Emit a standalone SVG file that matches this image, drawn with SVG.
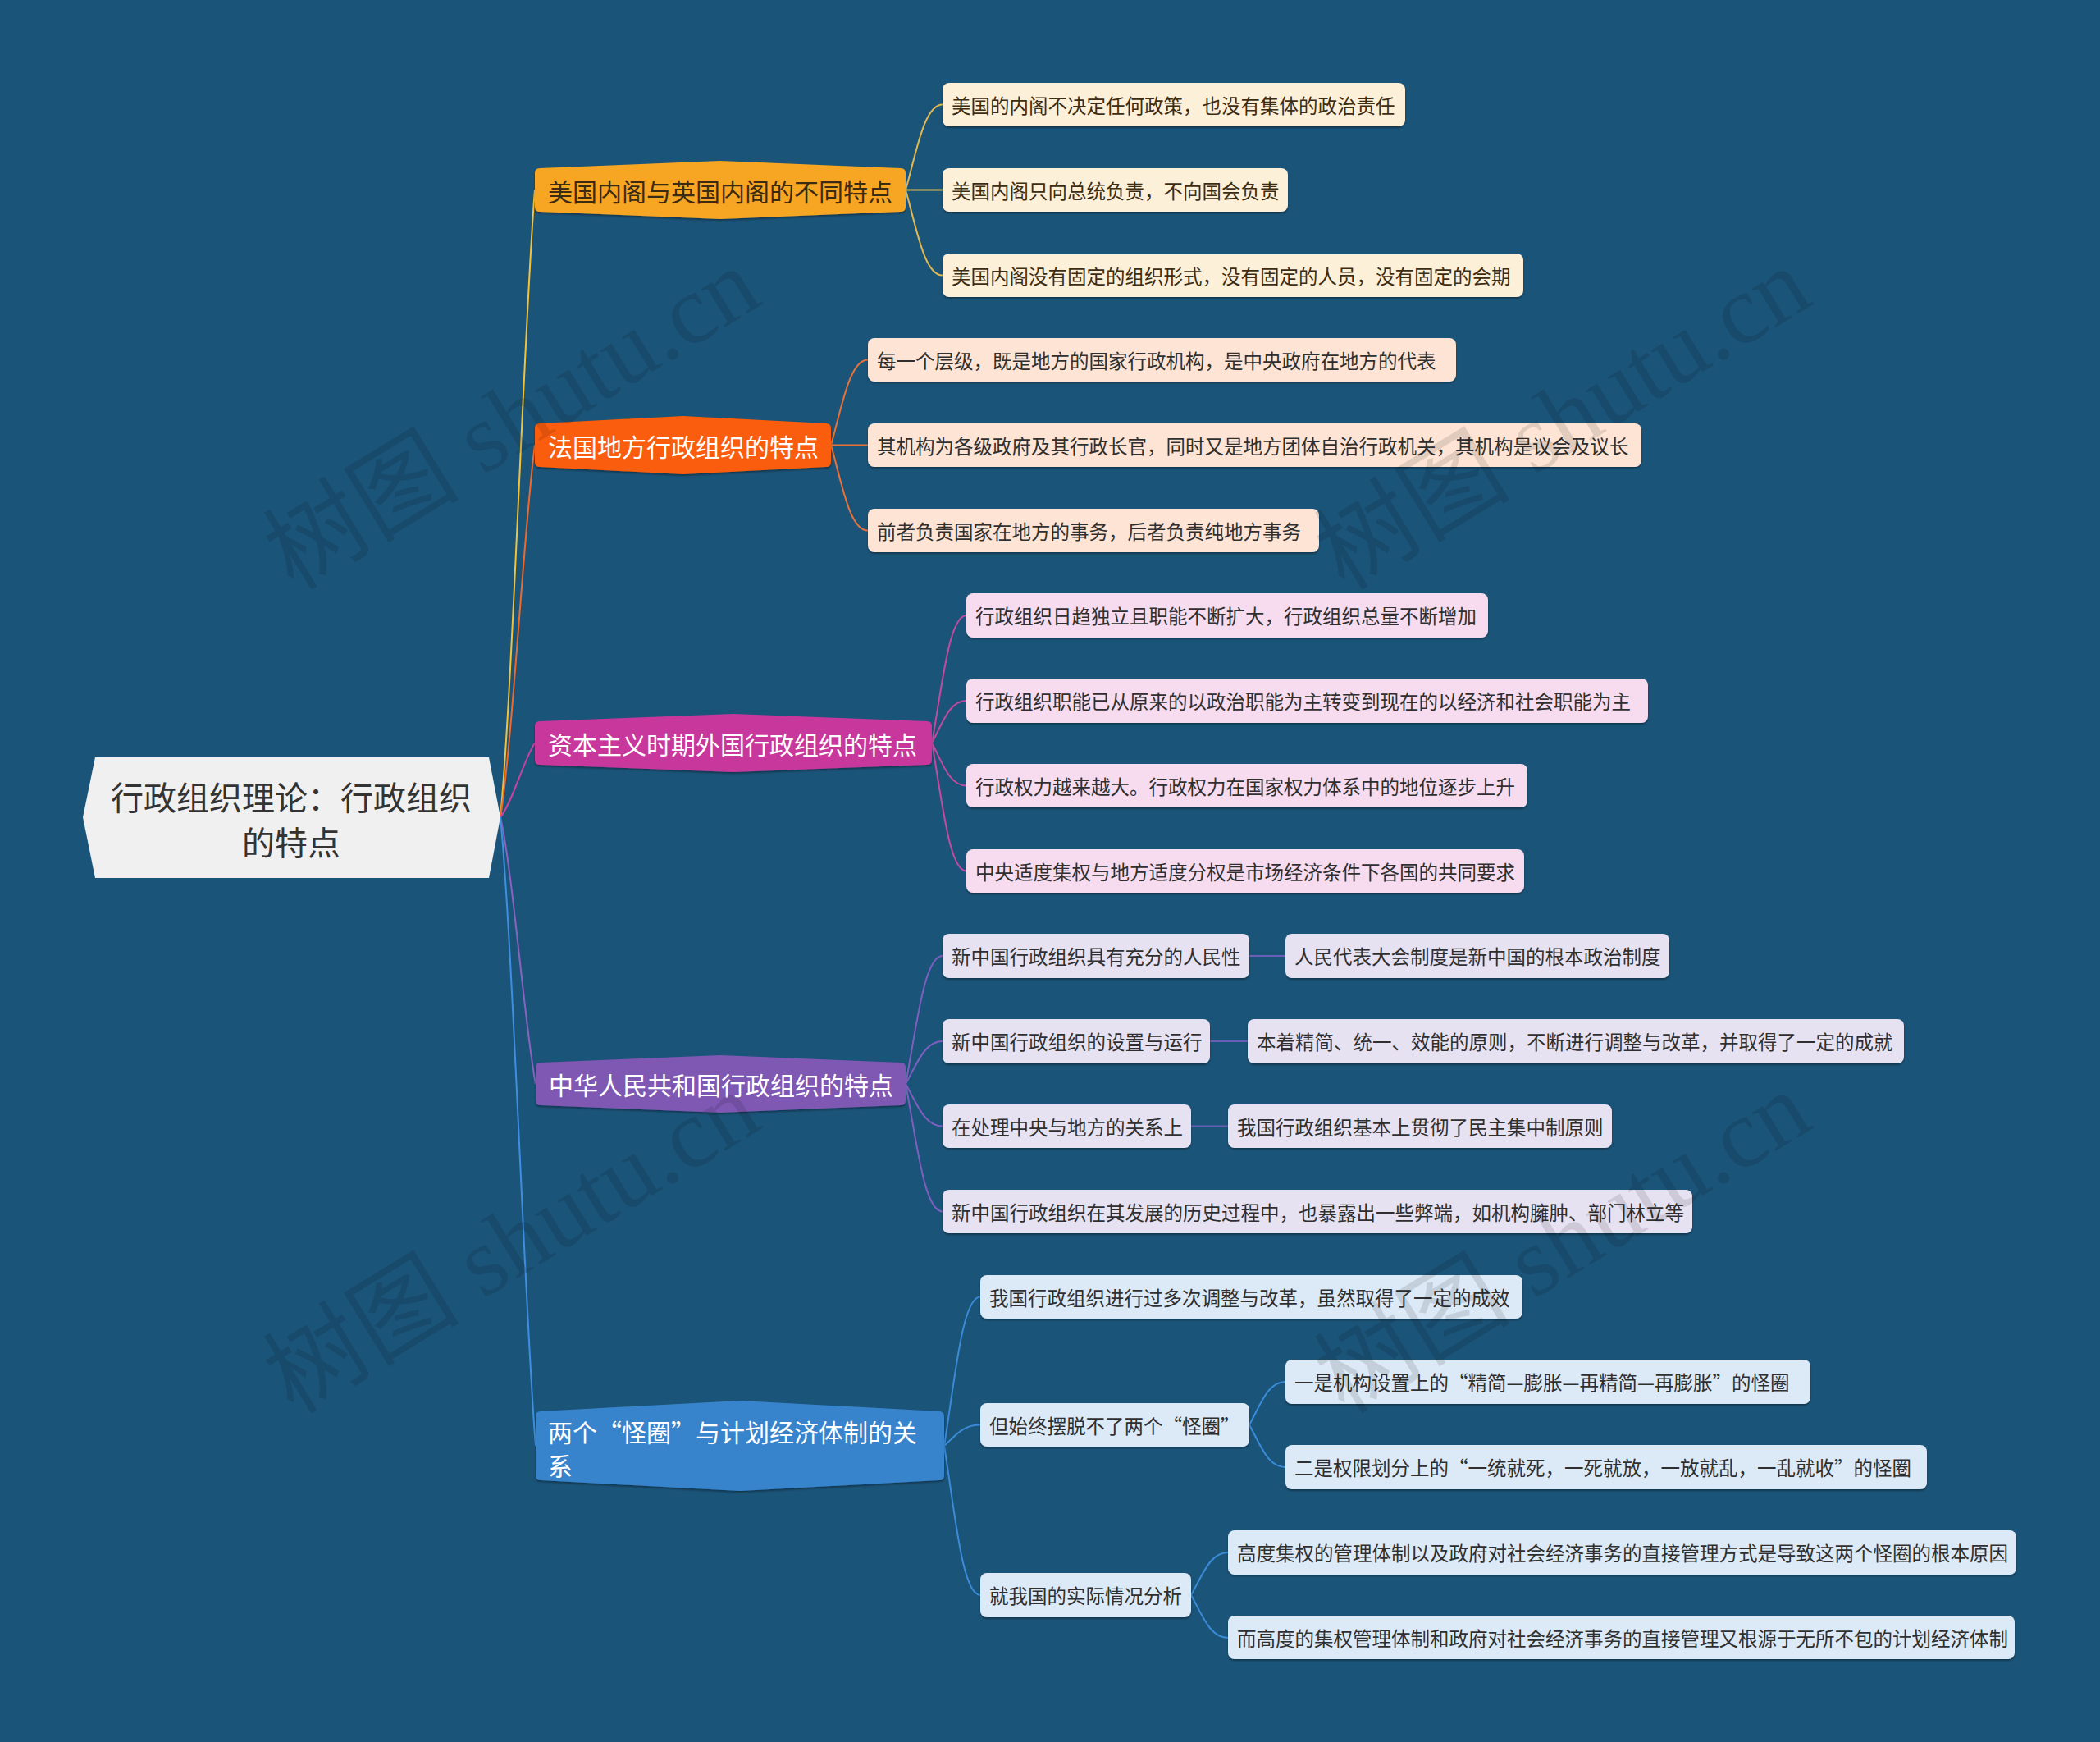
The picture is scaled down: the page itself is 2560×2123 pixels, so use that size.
<svg xmlns="http://www.w3.org/2000/svg" width="2560" height="2123" viewBox="0 0 2560 2123">
<defs>
<filter id="sh" x="-5%" y="-20%" width="110%" height="150%">
<feDropShadow dx="0" dy="2" stdDeviation="1.2" flood-color="#000" flood-opacity="0.35"/>
</filter>
</defs>
<style>
text{font-family:"Noto Sans CJK SC","Noto Sans",sans-serif;dominant-baseline:central}
.rt{font-size:40px;fill:#333;text-anchor:middle}
.t1{font-size:30px;fill:#fff}
.t1d{font-size:30px;fill:#3a2b12}
.t2{font-size:23.5px;fill:#2f2f2f}
.t2y{font-size:23.5px;fill:#3c2c12}
.b{filter:url(#sh)}
.c1{fill:#fdf0d8}.c2{fill:#fde4d4}.c3{fill:#f6dcee}.c4{fill:#e7e2f2}.c5{fill:#dce9f6}
.ln{fill:none;stroke-width:2}
.wm{font-family:"Liberation Serif","Noto Sans CJK SC",serif;font-size:120px;fill:#000;fill-opacity:0.11;text-anchor:middle;dominant-baseline:auto}
</style>
<rect x="0" y="0" width="2560" height="2123" fill="#1b5479"/>

<g id="connectors">
<path class="ln" stroke="#f2c23a" stroke-width="2.5" d="M610 996 C624.7 843.1 639.4 384.4 652 231.5"/>
<path class="ln" stroke="#ee6a2c" stroke-width="2.5" d="M610 996 C624.7 905.3 639.4 633.2 652 542.5"/>
<path class="ln" stroke="#c4449f" stroke-width="2.5" d="M610 996 C624.7 977.9 639.4 923.6 652 905.5"/>
<path class="ln" stroke="#8a62c0" stroke-width="2.5" d="M610 996 C625.1 1061 640.1 1256 653 1321"/>
<path class="ln" stroke="#3d8fe0" stroke-width="2.5" d="M610 996 C625.1 1149.2 640.1 1608.8 653 1762"/>

<path class="ln" stroke="#e3b94f" d="M1104 231.5 C1117.5 184.7 1126.5 127.5 1149 127.5"/>
<path class="ln" stroke="#e3b94f" d="M1104 231.5 L1149 231.5"/>
<path class="ln" stroke="#e3b94f" d="M1104 231.5 C1117.5 278.3 1126.5 335.5 1149 335.5"/>

<path class="ln" stroke="#e8733a" d="M1013 542.5 C1026.5 495.7 1035.5 438.5 1058 438.5"/>
<path class="ln" stroke="#e8733a" d="M1013 542.5 L1058 542.5"/>
<path class="ln" stroke="#e8733a" d="M1013 542.5 C1026.5 589.3 1035.5 646.5 1058 646.5"/>

<path class="ln" stroke="#c44aa0" d="M1136 905.5 C1148.6 835.5 1157 750 1178 750"/>
<path class="ln" stroke="#c44aa0" d="M1136 905.5 C1148.6 882.3 1157 854 1178 854"/>
<path class="ln" stroke="#c44aa0" d="M1136 905.5 C1148.6 928.9 1157 957.5 1178 957.5"/>
<path class="ln" stroke="#c44aa0" d="M1136 905.5 C1148.6 975.7 1157 1061.5 1178 1061.5"/>

<path class="ln" stroke="#7e5fc0" d="M1104 1321 C1117.5 1250.8 1126.5 1165 1149 1165"/>
<path class="ln" stroke="#7e5fc0" d="M1104 1321 C1117.5 1297.6 1126.5 1269 1149 1269"/>
<path class="ln" stroke="#7e5fc0" d="M1104 1321 C1117.5 1344.2 1126.5 1372.5 1149 1372.5"/>
<path class="ln" stroke="#7e5fc0" d="M1104 1321 C1117.5 1391 1126.5 1476.5 1149 1476.5"/>
<path class="ln" stroke="#6a5fb8" stroke-width="3" d="M1523 1165 L1567 1165"/>
<path class="ln" stroke="#6a5fb8" stroke-width="3" d="M1475 1269 L1521 1269"/>
<path class="ln" stroke="#6a5fb8" stroke-width="3" d="M1452 1372.5 L1497 1372.5"/>

<path class="ln" stroke="#3a8bd8" d="M1151 1762 C1164.2 1680.3 1173 1580.5 1195 1580.5"/>
<path class="ln" stroke="#3a8bd8" d="M1151 1762 C1164.2 1750.5 1173 1736.5 1195 1736.5"/>
<path class="ln" stroke="#3a8bd8" d="M1151 1762 C1164.2 1843.9 1173 1944 1195 1944"/>
<path class="ln" stroke="#3a8bd8" d="M1523 1736.5 C1536.2 1712.9 1545 1684 1567 1684"/>
<path class="ln" stroke="#3a8bd8" d="M1523 1736.5 C1536.2 1759.7 1545 1788 1567 1788"/>
<path class="ln" stroke="#3a8bd8" d="M1452 1944 C1465.5 1920.6 1474.5 1892 1497 1892"/>
<path class="ln" stroke="#3a8bd8" d="M1452 1944 C1465.5 1967.4 1474.5 1996 1497 1996"/>
</g>

<g id="root">
<polygon points="116,923 596,923 610,996 596,1070 116,1070 101,996" fill="#f0f0f0"/>
<text class="rt" x="355" y="970">行政组织理论：行政组织</text>
<text class="rt" x="355" y="1025">的特点</text>
</g>

<g id="n1">
<path class="b" fill="#f6a623" d="M658 205 L878 196 L1098 205 Q1104 205 1104 211 L1104 252 Q1104 258 1098 258 L878 267 L658 258 Q652 258 652 252 L652 211 Q652 205 658 205 Z"/>
<text class="t1d" x="668" y="231.5">美国内阁与英国内阁的不同特点</text>
</g>
<g id="n1a"><rect class="b c1" x="1149" y="101" width="564" height="53" rx="8"/><text class="t2y" x="1160" y="127.5">美国的内阁不决定任何政策，也没有集体的政治责任</text></g>
<g id="n1b"><rect class="b c1" x="1149" y="205" width="421" height="53" rx="8"/><text class="t2y" x="1160" y="231.5">美国内阁只向总统负责，不向国会负责</text></g>
<g id="n1c"><rect class="b c1" x="1149" y="309" width="708" height="53" rx="8"/><text class="t2y" x="1160" y="335.5">美国内阁没有固定的组织形式，没有固定的人员，没有固定的会期</text></g>

<g id="n2">
<path class="b" fill="#fa5d08" d="M658 516 L832.5 507 L1007 516 Q1013 516 1013 522 L1013 563 Q1013 569 1007 569 L832.5 578 L658 569 Q652 569 652 563 L652 522 Q652 516 658 516 Z"/>
<text class="t1" x="668" y="542.5">法国地方行政组织的特点</text>
</g>
<g id="n2a"><rect class="b c2" x="1058" y="412" width="717" height="53" rx="8"/><text class="t2" x="1069" y="438.5">每一个层级，既是地方的国家行政机构，是中央政府在地方的代表</text></g>
<g id="n2b"><rect class="b c2" x="1058" y="516" width="943" height="53" rx="8"/><text class="t2" x="1069" y="542.5">其机构为各级政府及其行政长官，同时又是地方团体自治行政机关，其机构是议会及议长</text></g>
<g id="n2c"><rect class="b c2" x="1058" y="620" width="550" height="53" rx="8"/><text class="t2" x="1069" y="646.5">前者负责国家在地方的事务，后者负责纯地方事务</text></g>

<g id="n3">
<path class="b" fill="#c8389c" d="M658 879 L894 870 L1130 879 Q1136 879 1136 885 L1136 926 Q1136 932 1130 932 L894 941 L658 932 Q652 932 652 926 L652 885 Q652 879 658 879 Z"/>
<text class="t1" x="668" y="905.5">资本主义时期外国行政组织的特点</text>
</g>
<g id="n3a"><rect class="b c3" x="1178" y="723" width="636" height="54" rx="8"/><text class="t2" x="1189" y="750">行政组织日趋独立且职能不断扩大，行政组织总量不断增加</text></g>
<g id="n3b"><rect class="b c3" x="1178" y="827" width="831" height="54" rx="8"/><text class="t2" x="1189" y="854">行政组织职能已从原来的以政治职能为主转变到现在的以经济和社会职能为主</text></g>
<g id="n3c"><rect class="b c3" x="1178" y="931" width="684" height="53" rx="8"/><text class="t2" x="1189" y="957.5">行政权力越来越大。行政权力在国家权力体系中的地位逐步上升</text></g>
<g id="n3d"><rect class="b c3" x="1178" y="1035" width="680" height="53" rx="8"/><text class="t2" x="1189" y="1061.5">中央适度集权与地方适度分权是市场经济条件下各国的共同要求</text></g>

<g id="n4">
<path class="b" fill="#7f58b4" d="M659 1295 L878.5 1286 L1098 1295 Q1104 1295 1104 1301 L1104 1341 Q1104 1347 1098 1347 L878.5 1356 L659 1347 Q653 1347 653 1341 L653 1301 Q653 1295 659 1295 Z"/>
<text class="t1" x="669" y="1321">中华人民共和国行政组织的特点</text>
</g>
<g id="n4a"><rect class="b c4" x="1149" y="1138" width="374" height="54" rx="8"/><text class="t2" x="1160" y="1165">新中国行政组织具有充分的人民性</text></g>
<g id="n4a1"><rect class="b c4" x="1567" y="1138" width="468" height="54" rx="8"/><text class="t2" x="1578" y="1165">人民代表大会制度是新中国的根本政治制度</text></g>
<g id="n4b"><rect class="b c4" x="1149" y="1242" width="326" height="54" rx="8"/><text class="t2" x="1160" y="1269">新中国行政组织的设置与运行</text></g>
<g id="n4b1"><rect class="b c4" x="1521" y="1242" width="800" height="54" rx="8"/><text class="t2" x="1532" y="1269">本着精简、统一、效能的原则，不断进行调整与改革，并取得了一定的成就</text></g>
<g id="n4c"><rect class="b c4" x="1149" y="1346" width="303" height="53" rx="8"/><text class="t2" x="1160" y="1372.5">在处理中央与地方的关系上</text></g>
<g id="n4c1"><rect class="b c4" x="1497" y="1346" width="468" height="53" rx="8"/><text class="t2" x="1508" y="1372.5">我国行政组织基本上贯彻了民主集中制原则</text></g>
<g id="n4d"><rect class="b c4" x="1149" y="1450" width="914" height="53" rx="8"/><text class="t2" x="1160" y="1476.5">新中国行政组织在其发展的历史过程中，也暴露出一些弊端，如机构臃肿、部门林立等</text></g>

<g id="n5">
<path class="b" fill="#3884cc" d="M659 1720 L902 1707 L1145 1720 Q1151 1720 1151 1726 L1151 1798 Q1151 1804 1145 1804 L902 1817 L659 1804 Q653 1804 653 1798 L653 1726 Q653 1720 659 1720 Z"/>
<text class="t1" x="668" y="1744">两个“怪圈”与计划经济体制的关</text>
<text class="t1" x="668" y="1785">系</text>
</g>
<g id="n5a"><rect class="b c5" x="1195" y="1554" width="661" height="53" rx="8"/><text class="t2" x="1206" y="1580.5">我国行政组织进行过多次调整与改革，虽然取得了一定的成效</text></g>
<g id="n5b"><rect class="b c5" x="1195" y="1710" width="328" height="53" rx="8"/><text class="t2" x="1206" y="1736.5">但始终摆脱不了两个“怪圈”</text></g>
<g id="n5b1"><rect class="b c5" x="1567" y="1657" width="640" height="54" rx="8"/><text class="t2" x="1578" y="1684">一是机构设置上的“精简—膨胀—再精简—再膨胀”的怪圈</text></g>
<g id="n5b2"><rect class="b c5" x="1567" y="1761" width="782" height="54" rx="8"/><text class="t2" x="1578" y="1788">二是权限划分上的“一统就死，一死就放，一放就乱，一乱就收”的怪圈</text></g>
<g id="n5c"><rect class="b c5" x="1195" y="1917" width="257" height="54" rx="8"/><text class="t2" x="1206" y="1944">就我国的实际情况分析</text></g>
<g id="n5c1"><rect class="b c5" x="1497" y="1865" width="961" height="54" rx="8"/><text class="t2" x="1508" y="1892">高度集权的管理体制以及政府对社会经济事务的直接管理方式是导致这两个怪圈的根本原因</text></g>
<g id="n5c2"><rect class="b c5" x="1497" y="1969" width="959" height="53" rx="8"/><text class="t2" x="1508" y="1996">而高度的集权管理体制和政府对社会经济事务的直接管理又根源于无所不包的计划经济体制</text></g>

<g id="watermark">
<text class="wm" transform="translate(645,545) rotate(-31.5)">树图 shutu.cn</text>
<text class="wm" transform="translate(1926,545) rotate(-31.5)">树图 shutu.cn</text>
<text class="wm" transform="translate(645,1549) rotate(-31.5)">树图 shutu.cn</text>
<text class="wm" transform="translate(1926,1549) rotate(-31.5)">树图 shutu.cn</text>
</g>
</svg>
